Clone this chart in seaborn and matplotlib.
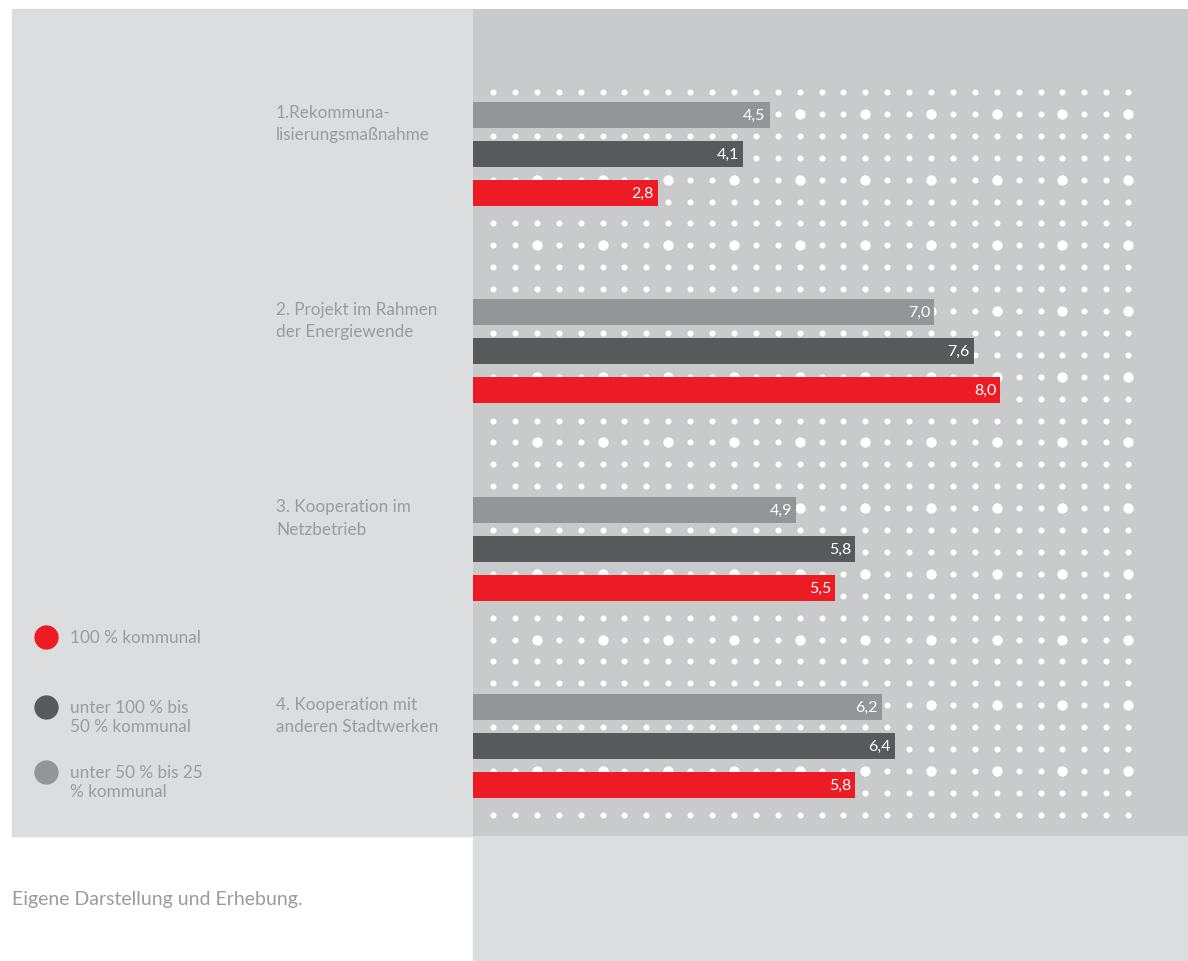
import numpy as np
import pandas as pd
import matplotlib
matplotlib.use("Agg")
import matplotlib.pyplot as plt
import matplotlib.transforms as mtransforms
from matplotlib.patches import Rectangle
from matplotlib.lines import Line2D
import seaborn as sns

# data
categories = ["1.Rekommuna-\nlisierungsmaßnahme",
              "2. Projekt im Rahmen\nder Energiewende",
              "3. Kooperation im\nNetzbetrieb",
              "4. Kooperation mit\nanderen Stadtwerken"]
groups = ["unter 50 % bis 25\n% kommunal",
          "unter 100 % bis\n50 % kommunal",
          "100 % kommunal"]
vals_25_50 = [4.5, 7.0, 4.9, 6.2]
vals_50_100 = [4.1, 7.6, 5.8, 6.4]
vals_100 = [2.8, 8.0, 5.5, 5.8]
legend_order = [groups[2], groups[1], groups[0]]

colors = {groups[0]: "#939598", groups[1]: "#58595b", groups[2]: "#ed1c24"}
text_grey = "#9a9b9e"

df = pd.DataFrame({
    "Kategorie": categories * 3,
    "Gruppe": [groups[0]] * 4 + [groups[1]] * 4 + [groups[2]] * 4,
    "Wert": vals_25_50 + vals_50_100 + vals_100,
})

sns.set_theme(style="white")
plt.rcParams["font.family"] = ["Lato", "DejaVu Sans"]

W, H = 1188, 962
fig = plt.figure(figsize=(W / 100, H / 100), dpi=100)
fig.patch.set_facecolor("white")

# pixel helpers
def fx(px):
    return px / W

def fy(py):
    return 1 - py / H

# background panels, kept under the axes
fig.patches.append(Rectangle((fx(12), fy(837)), fx(473) - fx(12), fy(10) - fy(837),
                             transform=fig.transFigure, color="#dcdddf", zorder=-2))
fig.patches.append(Rectangle((fx(473), 0), 1 - fx(473), fy(837),
                             transform=fig.transFigure, color="#dcdddf", zorder=-2))

ax = fig.add_axes([fx(473), fy(837), 1 - fx(473), fy(10) - fy(837)])
ax.set_facecolor("#c9cacc")

px_per_unit = 65.9
grp_px = 197.3
y0 = 155  # pixel row of the first group's centre
xmax = (W - 473) / px_per_unit

# decorative dot grid
cols = 0.3035 + np.arange(30) * (21.9 / px_per_unit)
rows = (93 - y0) / grp_px + np.arange(34) * (21.9 / grp_px)
gx, gy = np.meshgrid(np.arange(30), np.arange(34))
big = (gx % 3 == 2) & (gy % 3 == 1)
ax.scatter(cols[gx[~big]], rows[gy[~big]], s=19, color="white", linewidths=0, zorder=1)
ax.scatter(cols[gx[big]], rows[gy[big]], s=55, color="white", linewidths=0, zorder=1)

sns.barplot(data=df, y="Kategorie", x="Wert", hue="Gruppe", hue_order=groups,
            order=categories, palette=colors, orient="h", width=0.5925, gap=0.333,
            saturation=1, linewidth=0, legend=False, ax=ax, zorder=2)

ax.set_xlim(0, xmax)
ax.set_ylim((837 - y0) / grp_px, (10 - y0) / grp_px)
ax.set_xlabel("")
ax.set_ylabel("")
ax.set_xticks([])
ax.set_yticks([])
for s in ax.spines.values():
    s.set_visible(False)

# value labels inside the bar ends
for p in ax.patches:
    v = p.get_width()
    ax.text(v - 4 / px_per_unit, p.get_y() + p.get_height() / 2,
            f"{v:.1f}".replace(".", ","), ha="right", va="center",
            color="white", fontsize=11.5, zorder=3)

# category labels on the left panel
trans = mtransforms.blended_transform_factory(fig.transFigure, ax.transData)
for i, c in enumerate(categories):
    ax.text(fx(276), i - 0.255, c, transform=trans, ha="left", va="top",
            color=text_grey, fontsize=12.3, linespacing=1.5, clip_on=False)

# legend
leg_y = [638, 708, 773]
for g, yy in zip(legend_order, leg_y):
    fig.add_artist(Line2D([fx(46)], [fy(yy)], marker="o", markersize=16.5,
                          color=colors[g], linestyle="none", transform=fig.transFigure))
    fig.text(fx(70), fy(yy - 8), g, ha="left", va="top", color=text_grey,
             fontsize=12.3, linespacing=1.2)

fig.text(fx(12), fy(900), "Eigene Darstellung und Erhebung.", ha="left", va="center",
         color=text_grey, fontsize=14)

fig.savefig("out.png", dpi=100, facecolor=fig.get_facecolor())
